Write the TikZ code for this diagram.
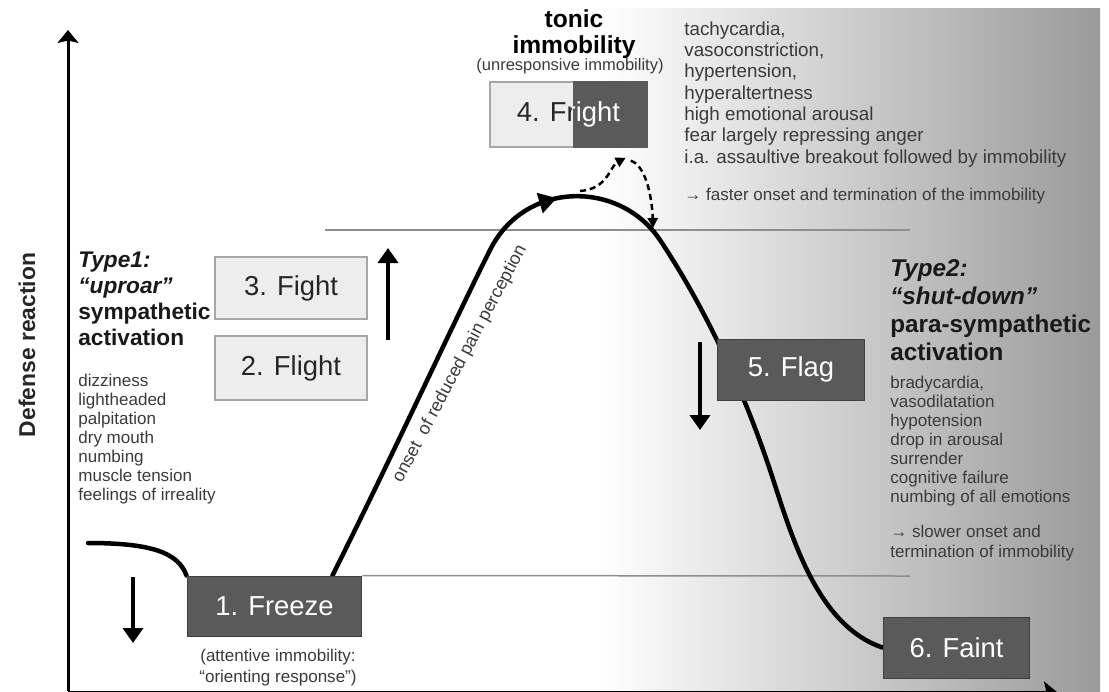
\documentclass[tikz,border=0pt]{standalone}
\usepackage{fontspec}
\setmainfont{Liberation Sans}
\usetikzlibrary{arrows.meta,calc,backgrounds}
\definecolor{boxfill}{HTML}{5A5A5A}
\definecolor{boxpale}{HTML}{EDEDED}
\definecolor{rule}{HTML}{8E8E8E}
\definecolor{ink}{HTML}{3A3A3A}
\definecolor{shadeend}{HTML}{9A9A9A}
\tikzset{
  darkbox/.style={draw=black!75, line width=0.02cm, fill=boxfill, text=white, inner sep=0pt, font=\fontsize{15.6}{18}\selectfont},
  palebox/.style={draw=black!35, line width=0.03cm, fill=boxpale, text=black!85, inner sep=0pt, font=\fontsize{15.6}{18}\selectfont},
  headtext/.style={anchor=base west, align=left, inner sep=0pt, text=black!90, font=\bfseries\fontsize{12.9}{14.8}\selectfont},
  listtext/.style={anchor=base west, align=left, inner sep=0pt, text=ink, font=\fontsize{9.7}{10.8}\selectfont},
  fatarrow/.style={line width=0.08cm, -{Triangle[length=0.3cm,width=0.4cm]}},
  curve/.style={line width=0.09cm, line cap=round},
  dasharrow/.style={line width=0.05cm, dash pattern=on 0.12cm off 0.08cm, -{Triangle[length=0.2cm,width=0.2cm]}},
  rulefine/.style={draw=rule, line width=0.03cm}
}
\begin{document}
\begin{tikzpicture}[x=0.02cm,y=-0.02cm]
\useasboundingbox (0,0) rectangle (1109,691);

% the six stages
\node[darkbox, minimum width=3.5cm, minimum height=1.2cm] (freeze) at (274.5,606) {1. Freeze};
\node[palebox, minimum width=3.04cm, minimum height=1.28cm] (flight) at (291,368) {2. Flight};
\node[palebox, minimum width=3.04cm, minimum height=1.24cm] (fight) at (291,288) {3. Fight};
\node[palebox, minimum width=3.14cm, minimum height=1.3cm] (fright) at (568.5,114.5) {};
\node[darkbox, minimum width=2.96cm, minimum height=1.22cm] (flag) at (791,369.5) {5. Flag};
\node[darkbox, minimum width=2.94cm, minimum height=1.22cm] (faint) at (956.5,647.5) {6. Faint};

% fright is half pale, half dark
\fill[boxfill] ($(fright.north east)+(-75,0)$) rectangle (fright.south east);
\begin{scope}
  \clip (fright.north west) rectangle ($(fright.south east)+(-75,0)$);
  \node[text=black!85, inner sep=0pt, font=\fontsize{15.6}{18}\selectfont] (frightA) at (fright.center) {4. Fright};
\end{scope}
\begin{scope}
  \clip ($(fright.north east)+(-75,0)$) rectangle (fright.south east);
  \node[text=white, inner sep=0pt, font=\fontsize{15.6}{18}\selectfont] (frightB) at (fright.center) {4. Fright};
\end{scope}

% shading, levels and the curve
\begin{pgfonlayer}{background}
  \shade[left color=white, right color=shadeend] (600,8) rectangle (1100,691);
  \draw[rulefine] (325,230) -- (910,230);
  \draw[rulefine] (freeze.north east) -- (910,576);
  \draw[curve] (88,543) .. controls (150,543) and (178,552) .. (freeze.north west);
  \draw[curve] ($(freeze.north east)+(-30,0)$) .. controls (400,440) and (450,330) .. (490,250)
     .. controls (525,180) and (620,180) .. (660,240)
     .. controls (700,300) and (740,380) .. (770,470)
     .. controls (790,530) and (815,625) .. (faint.west);
\end{pgfonlayer}
\draw[line width=0.09cm, -{Triangle[length=0.36cm,width=0.4cm]}] (540,203) -- (557,198);

% axes
\draw[line width=0.06cm, -{Stealth[length=0.26cm,width=0.42cm,inset=0.05cm]}] (68,691) -- (68,30);
\draw[line width=0.06cm, -{Stealth[length=0.26cm,width=0.42cm,inset=0.05cm]}] (68,692) -- (1057,692);
\node[rotate=90, font=\bfseries\fontsize{13}{15}\selectfont, text=black!85] (yaxis) at (27,345) {Defense reaction};

% direction arrows
\draw[fatarrow] (133,577) -- (133,643);
\draw[fatarrow] (388,340) -- (388,248);
\draw[fatarrow] (700,342) -- (700,430);

% loop to fright and back
\coordinate (peak) at (580,191);
\coordinate (turn) at ($(fright.south east)+(-22,10)$);
\coordinate (drop) at (653,228);
\draw[dasharrow] (peak) .. controls (608,189) and (610,166) .. (turn);
\draw[dasharrow] ($(turn)+(5,3)$) .. controls (645,165) and (652,195) .. (drop);

% texts (multi-line nodes sit on their last baseline)
\node[anchor=base, align=center, inner sep=0pt, font=\bfseries\fontsize{14}{14.8}\selectfont] (tonic) at (574,53) {tonic\\immobility};
\node[anchor=base, inner sep=0pt, text=ink, font=\fontsize{9.4}{11}\selectfont] (unresp) at (570,70) {(unresponsive immobility)};
\node[listtext, font=\fontsize{10.7}{12.1}\selectfont] (signsup) at (684,163) {tachycardia,\\vasoconstriction,\\hypertension,\\hyperaltertness\\high emotional arousal\\fear largely repressing anger\\i.a. assaultive breakout followed by immobility};
\node[listtext, font=\fontsize{9.7}{11}\selectfont] (faster) at (684,200) {→ faster onset and termination of the immobility};
\node[headtext] (type1) at (78,345) {{\itshape Type1:}\\{\itshape “uproar”}\\sympathetic\\activation};
\node[listtext] (signs1) at (78,500) {dizziness\\lightheaded\\palpitation\\dry mouth\\numbing\\muscle tension\\feelings of irreality};
\node[headtext, font=\bfseries\fontsize{13.8}{15.9}\selectfont] (type2) at (890,360) {{\itshape Type2:}\\{\itshape “shut-down”}\\para-sympathetic\\activation};
\node[listtext] (signs2) at (890,502) {bradycardia,\\vasodilatation\\hypotension\\drop in arousal\\surrender\\cognitive failure\\numbing of all emotions};
\node[listtext, font=\fontsize{9.7}{11.1}\selectfont] (slower) at (890,557) {→ slower onset and\\termination of immobility};
\node[listtext, align=center, anchor=base, font=\fontsize{9.7}{11.4}\selectfont] (freezenote) at (278,682) {(attentive immobility:\\“orienting response”)};
\node[rotate=62, text=ink, font=\fontsize{10.2}{12}\selectfont] (pain) at (460,364) {onset~~of reduced pain perception};
\end{tikzpicture}
\end{document}
